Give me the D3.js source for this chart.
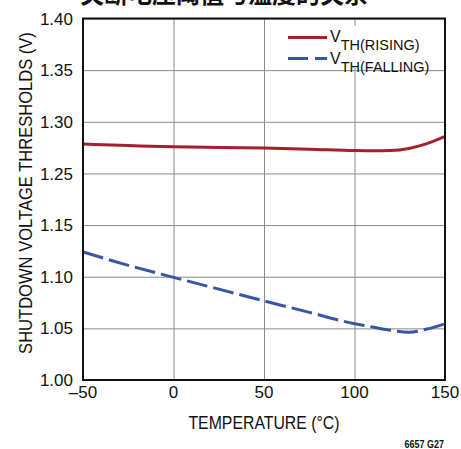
<!DOCTYPE html>
<html>
<head>
<meta charset="UTF-8">
<title>Shutdown voltage thresholds</title>
<script src="https://d3js.org/d3.v7.min.js"></script>
<style>
    body { margin: 0; background: #fff; }
    svg text { font-family: "Liberation Sans", Arial, sans-serif; fill: #111; }
    .grid line { stroke: #8a8a8a; stroke-width: 1; }
    .grid path { display: none; }
</style>
</head>
<body>
<div id="chart"></div>
<script>
// values
const titleText = '关断电压阈值与温度的关系'
const temps = [-50, -25, 0, 25, 50, 75, 100, 110, 120, 130, 140, 150]
const vthRising = [1.2784, 1.2770, 1.2758, 1.2752, 1.2745, 1.2735, 1.2722, 1.2720, 1.2722, 1.2742, 1.2788, 1.2858]
const vthFalling = [1.1240, 1.1110, 1.0994, 1.0880, 1.0766, 1.0655, 1.0545, 1.0513, 1.0481, 1.0462, 1.0493, 1.0545]
const xTicks = [-50, 0, 50, 100, 150]
// note: the original axis skips 1.20
const yTicks = [1.00, 1.05, 1.10, 1.15, 1.25, 1.30, 1.35, 1.40]
const legendNames = ['RISING', 'FALLING']

const W = 461, H = 449
const pLeft = 83, pRight = 445, pTop = 18.5, pBottom = 380
const step = (pBottom - pTop) / (yTicks.length - 1)

const svg = d3.select('#chart').append('svg')
    .attr('width', W)
    .attr('height', H)

const x = d3.scaleLinear().domain([-50, 150]).range([pLeft, pRight])
// piecewise scale so the labels sit evenly, as in the original
const y = d3.scaleLinear()
    .domain([1.00, 1.15, 1.25, 1.40])
    .range([pBottom, pBottom - 3 * step, pBottom - 4 * step, pTop])

// title, cut off at the top like the original
svg.append('text')
    .attr('x', 224)
    .attr('y', 3)
    .attr('text-anchor', 'middle')
    .style('font-family', '"Noto Sans CJK SC", sans-serif')
    .style('font-weight', 'bold')
    .style('font-size', '24px')
    .text(titleText)

// grid
svg.append('g')
    .attr('class', 'grid')
    .attr('transform', `translate(0, ${pBottom})`)
    .call(d3.axisBottom(x).tickValues(xTicks).tickSize(-(pBottom - pTop)).tickFormat(''))

svg.append('g')
    .attr('class', 'grid')
    .attr('transform', `translate(${pLeft}, 0)`)
    .call(d3.axisLeft(y).tickValues(yTicks).tickSize(-(pRight - pLeft)).tickFormat(''))

// tick labels
svg.append('g').selectAll('text')
    .data(xTicks)
    .enter()
    .append('text')
    .attr('x', d => x(d))
    .attr('y', 398)
    .attr('text-anchor', 'middle')
    .style('font-size', '17px')
    .text(d => d < 0 ? '\u2013' + Math.abs(d) : d)

svg.append('g').selectAll('text')
    .data(yTicks)
    .enter()
    .append('text')
    .attr('x', 73)
    .attr('y', d => y(d))
    .attr('dy', '0.36em')
    .attr('text-anchor', 'end')
    .style('font-size', '17px')
    .text(d => d.toFixed(2))

// axis titles (narrow type, so squeeze a little)
svg.append('text')
    .attr('transform', `translate(${(pLeft + pRight) / 2}, 429) scale(0.88, 1)`)
    .attr('text-anchor', 'middle')
    .style('font-size', '18px')
    .text('TEMPERATURE (°C)')

svg.append('text')
    .attr('transform', 'translate(32, 193) rotate(-90) scale(0.92, 1)')
    .attr('text-anchor', 'middle')
    .style('font-size', '18px')
    .text('SHUTDOWN VOLTAGE THRESHOLDS (V)')

svg.append('text')
    .attr('transform', 'translate(444, 448) scale(0.9, 1)')
    .attr('text-anchor', 'end')
    .style('font-size', '10px')
    .style('font-weight', 'bold')
    .text('6657 G27')

// curves
const line = d3.line()
    .x(d => x(d[0]))
    .y(d => y(d[1]))
    .curve(d3.curveMonotoneX)

svg.append('path')
    .datum(temps.map((t, i) => [t, vthRising[i]]))
    .attr('d', line)
    .attr('fill', 'none')
    .attr('stroke', '#a3212a')
    .attr('stroke-width', 3)

svg.append('path')
    .datum(temps.map((t, i) => [t, vthFalling[i]]))
    .attr('d', line)
    .attr('fill', 'none')
    .attr('stroke', '#3955a6')
    .attr('stroke-width', 3)
    .attr('stroke-dasharray', '21,6')

// frame
svg.append('rect')
    .attr('x', pLeft)
    .attr('y', pTop)
    .attr('width', pRight - pLeft)
    .attr('height', pBottom - pTop)
    .attr('fill', 'none')
    .attr('stroke', '#111')
    .attr('stroke-width', 2)

// legend
const lg = svg.append('g')
lg.append('rect').attr('x', 285).attr('y', 26).attr('width', 150).attr('height', 42).attr('fill', '#fff')
lg.append('line').attr('x1', 288).attr('x2', 327).attr('y1', 37.5).attr('y2', 37.5)
    .attr('stroke', '#a3212a').attr('stroke-width', 3)
lg.append('line').attr('x1', 288).attr('x2', 327).attr('y1', 58.5).attr('y2', 58.5)
    .attr('stroke', '#3955a6').attr('stroke-width', 3).attr('stroke-dasharray', '20,7')

legendNames.forEach((name, i) => {
    const t = lg.append('text')
        .attr('transform', `translate(330, ${42 + i * 21.5})`)
        .style('font-size', '16px')
    t.append('tspan').text('V')
    t.append('tspan')
        .attr('dy', 8)
        .style('font-size', '14.5px')
        .text('TH(' + name + ')')
})
</script>
</body>
</html>
